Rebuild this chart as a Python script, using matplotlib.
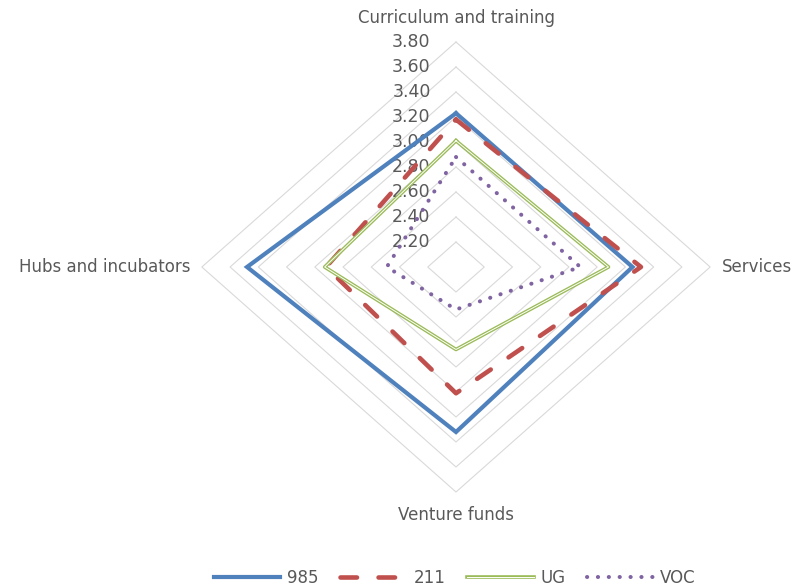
import numpy as np
import matplotlib.pyplot as plt
from matplotlib import patheffects as pe

categories = ["Curriculum and training", "Services", "Venture funds", "Hubs and incubators"]
series_names = ["985", "211", "UG", "VOC"]
v985 = [3.23, 3.25, 3.32, 3.48]
v211 = [3.18, 3.31, 3.01, 2.92]
vug = [3.01, 3.08, 2.66, 2.93]
voc = [2.88, 2.88, 2.34, 2.49]
ticks = [2.20, 2.40, 2.60, 2.80, 3.00, 3.20, 3.40, 3.60, 3.80]
r_min = 2.0

plt.rcParams['font.family'] = ['DejaVu Sans']
grey = "#595959"
fs = 12

fig = plt.figure(figsize=(7.95, 5.87), dpi=100)
ax = fig.add_axes([0, 0, 1, 1])
ax.set_axis_off()
# horizontal scale 141 px/unit, vertical 125 px/unit, centre at (456, 267)
ax.set_xlim(-456 / 141.2, (795 - 456) / 141.2)
ax.set_ylim(-(587 - 267) / 125.0, 267 / 125.0)

angles = np.arange(len(categories)) * np.pi / 2


def to_xy(vals):
    r = np.asarray(vals) - r_min
    x = r * np.sin(angles)
    y = r * np.cos(angles)
    return np.append(x, x[0]), np.append(y, y[0])


# grid rings
for t in ticks:
    gx, gy = to_xy([t] * len(categories))
    ax.plot(gx, gy, color="#d9d9d9", lw=0.8, zorder=1)
    ax.text(-0.18, t - r_min, f"{t:.2f}", ha="right", va="center",
            fontsize=12.5, color=grey, zorder=2)

# category labels
rr = ticks[-1] - r_min
ax.text(0, rr + 0.19, categories[0], ha="center", va="center", fontsize=fs, color=grey)
ax.text(rr + 0.08, 0, categories[1], ha="left", va="center", fontsize=fs, color=grey)
ax.text(0, -rr - 0.18, categories[2], ha="center", va="center", fontsize=fs, color=grey)
ax.text(-rr - 0.08, 0, categories[3], ha="right", va="center", fontsize=fs, color=grey)

x, y = to_xy(v985)
ax.plot(x, y, color="#4f81bd", lw=3.0, label=series_names[0], zorder=3,
        solid_joinstyle="miter")
x, y = to_xy(v211)
ax.plot(x, y, color="#c0504d", lw=3.3, dashes=(3.6, 4.7), label=series_names[1],
        zorder=3, dash_capstyle="round")
x, y = to_xy(vug)
ax.plot(x, y, color="white", lw=0.7, label=series_names[2], zorder=3,
        path_effects=[pe.Stroke(linewidth=2.6, foreground="#9bbb59"), pe.Normal()])
x, y = to_xy(voc)
ax.plot(x, y, color="#8064a2", lw=2.9, dashes=(0.05, 2.65), dash_capstyle="round",
        label=series_names[3], zorder=3)

fig.legend(loc="lower center", bbox_to_anchor=(0.572, -0.026), ncol=4, frameon=False,
           fontsize=fs, handlelength=4.0, columnspacing=1.3, handletextpad=0.4,
           labelcolor=grey)

fig.savefig("out.png", dpi=100)
